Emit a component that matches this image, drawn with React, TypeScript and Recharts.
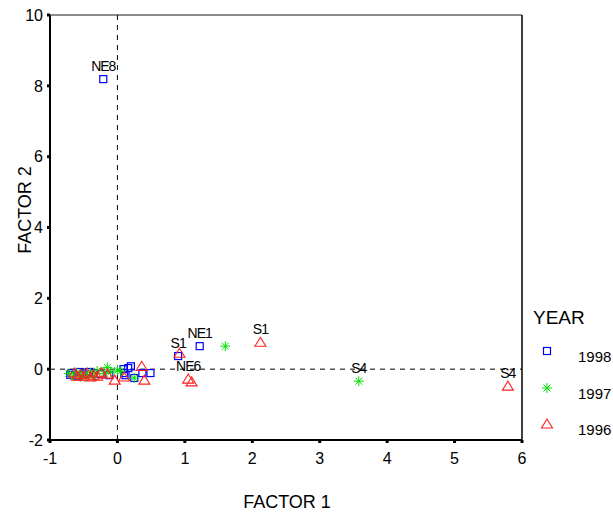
import { ScatterChart, Scatter, XAxis, YAxis, ReferenceLine, LabelList } from 'recharts';

const xTicks = [-1, 0, 1, 2, 3, 4, 5, 6];
const yTicks = [-2, 0, 2, 4, 6, 8, 10];

const years = ['1998', '1997', '1996'];
const colors = ['#0000ff', '#00e000', '#ff2020'];

const pts1998 = [
  { x: -0.21, y: 8.19, label: 'NE8' },
  { x: 0.9, y: 0.37, label: 'S1' },
  { x: 1.22, y: 0.65, label: 'NE1' },
  { x: 0.2, y: 0.08 },
  { x: 0.16, y: 0.03 },
  { x: 0.09, y: 0.0 },
  { x: 0.1, y: -0.11 },
  { x: 0.12, y: -0.17 },
  { x: 0.37, y: -0.11 },
  { x: 0.49, y: -0.11 },
  { x: 0.25, y: -0.25 },
  { x: -0.12, y: -0.17 },
  { x: -0.25, y: -0.14 },
  { x: -0.35, y: -0.12 },
  { x: -0.42, y: -0.08 },
  { x: -0.5, y: -0.15 },
  { x: -0.56, y: -0.08 },
  { x: -0.6, y: -0.2 },
  { x: -0.68, y: -0.11 },
  { x: -0.7, y: -0.16 },
];

const pts1997 = [
  { x: 1.6, y: 0.65 },
  { x: 3.58, y: -0.34, label: 'S4' },
  { x: -0.15, y: 0.05 },
  { x: 0.0, y: -0.03 },
  { x: 0.05, y: -0.06 },
  { x: 0.25, y: -0.25 },
  { x: -0.1, y: -0.08 },
  { x: -0.2, y: -0.12 },
  { x: -0.3, y: -0.05 },
  { x: -0.35, y: -0.22 },
  { x: -0.4, y: -0.1 },
  { x: -0.45, y: -0.2 },
  { x: -0.5, y: -0.15 },
  { x: -0.55, y: -0.22 },
  { x: -0.6, y: -0.1 },
  { x: -0.65, y: -0.2 },
  { x: -0.72, y: -0.12 },
];

const pts1996 = [
  { x: 2.12, y: 0.76, label: 'S1' },
  { x: 5.79, y: -0.48, label: 'S4' },
  { x: 0.92, y: 0.45 },
  { x: 1.05, y: -0.28, label: 'NE6' },
  { x: 1.1, y: -0.36 },
  { x: 0.36, y: 0.08 },
  { x: 0.4, y: -0.31 },
  { x: -0.04, y: -0.31 },
  { x: 0.1, y: -0.22 },
  { x: -0.15, y: -0.14 },
  { x: -0.24, y: -0.1 },
  { x: -0.3, y: -0.2 },
  { x: -0.35, y: -0.17 },
  { x: -0.4, y: -0.22 },
  { x: -0.45, y: -0.11 },
  { x: -0.5, y: -0.2 },
  { x: -0.55, y: -0.15 },
  { x: -0.6, y: -0.2 },
  { x: -0.64, y: -0.11 },
];

const font = '"Liberation Sans", Arial, sans-serif';

const Square = (p: any) => (
  <rect x={p.cx - 3.5} y={p.cy - 3.5} width={7} height={7} fill="none" stroke={colors[0]} strokeWidth={1.2} />
);

const Star = (p: any) => {
  const { cx, cy } = p;
  const r = 5;
  return (
    <g stroke={colors[1]} strokeWidth={1}>
      <line x1={cx - r} y1={cy} x2={cx + r} y2={cy} />
      <line x1={cx} y1={cy - r} x2={cx} y2={cy + r} />
      <line x1={cx - 3.5} y1={cy - 3.5} x2={cx + 3.5} y2={cy + 3.5} />
      <line x1={cx - 3.5} y1={cy + 3.5} x2={cx + 3.5} y2={cy - 3.5} />
    </g>
  );
};

const Triangle = (p: any) => {
  const { cx, cy } = p;
  return (
    <polygon
      points={`${cx},${cy - 5} ${cx - 5.5},${cy + 4} ${cx + 5.5},${cy + 4}`}
      fill="none"
      stroke={colors[2]}
      strokeWidth={1.1}
    />
  );
};

const renderLabel = (props: any) => {
  const { x, y, width, value } = props;
  if (!value) return null;
  return (
    <text x={x + width / 2} y={y - 4} textAnchor="middle" fontFamily={font} fontSize={14} fill="#000" letterSpacing={-1}>
      {value}
    </text>
  );
};

const legendShapes = [Square, Star, Triangle];

const App = () => {
  return (
    <div style={{ position: 'absolute', left: 0, top: 0, width: 613, height: 514, background: '#fff' }}>
      <ScatterChart width={613} height={514} margin={{ top: 15, right: 91, bottom: 44, left: 10 }}>
        <XAxis
          type="number"
          dataKey="x"
          domain={[-1, 6]}
          ticks={xTicks}
          height={30}
          stroke="#000"
          strokeWidth={2}
          tickSize={3}
          tickLine={{ stroke: '#000', strokeWidth: 3 }}
          tick={{ fill: '#000', fontSize: 16, fontFamily: font, dy: 8 }}
          allowDataOverflow
        />
        <YAxis
          type="number"
          dataKey="y"
          domain={[-2, 10]}
          ticks={yTicks}
          width={40}
          stroke="#000"
          strokeWidth={2}
          tickSize={3}
          tickLine={{ stroke: '#000', strokeWidth: 3 }}
          tick={{ fill: '#000', fontSize: 16, fontFamily: font, dx: -2 }}
          allowDataOverflow
        />
        <ReferenceLine y={10} stroke="#666" strokeWidth={1.5} />
        <ReferenceLine x={6} stroke="#000" strokeWidth={1.5} />
        <ReferenceLine x={0} stroke="#000" strokeDasharray="5 5" />
        <ReferenceLine y={0} stroke="#000" strokeDasharray="5 5" />
        <Scatter data={pts1998} shape={Square} isAnimationActive={false}>
          <LabelList dataKey="label" content={renderLabel} />
        </Scatter>
        <Scatter data={pts1997} shape={Star} isAnimationActive={false}>
          <LabelList dataKey="label" content={renderLabel} />
        </Scatter>
        <Scatter data={pts1996} shape={Triangle} isAnimationActive={false}>
          <LabelList dataKey="label" content={renderLabel} />
        </Scatter>
      </ScatterChart>
      <div
        style={{
          position: 'absolute',
          left: 25,
          top: 210,
          transform: 'translate(-50%, -50%) rotate(-90deg)',
          fontFamily: font,
          fontSize: 18,
          whiteSpace: 'nowrap',
        }}
      >
        FACTOR 2
      </div>
      <div
        style={{
          position: 'absolute',
          left: 287,
          top: 502,
          transform: 'translate(-50%, -50%)',
          fontFamily: font,
          fontSize: 18,
          whiteSpace: 'nowrap',
        }}
      >
        FACTOR 1
      </div>
      <div style={{ position: 'absolute', left: 533, top: 307, fontFamily: font, fontSize: 19 }}>YEAR</div>
      {years.map((yr, i) => {
        const Shape = legendShapes[i];
        const top = 348 + i * 36.5;
        return (
          <div key={yr}>
            <svg style={{ position: 'absolute', left: 540, top: top - 4 }} width={14} height={14}>
              <Shape cx={7} cy={7} />
            </svg>
            <div style={{ position: 'absolute', left: 578, top: top, fontFamily: font, fontSize: 15 }}>{yr}</div>
          </div>
        );
      })}
    </div>
  );
};

export default App;
